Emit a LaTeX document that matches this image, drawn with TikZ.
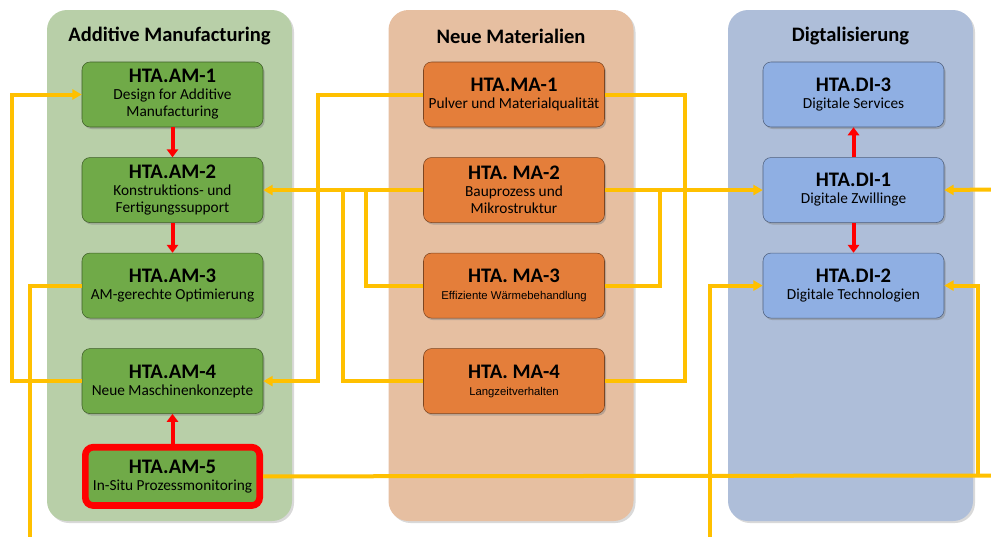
\documentclass[tikz,border=0pt]{standalone}
\usepackage{fontspec}
\setmainfont{Carlito}
\newfontfamily\arialfont{Liberation Sans}
\usepackage{tikz}
\usetikzlibrary{arrows.meta,positioning,calc,shadows}
\definecolor{ampanel}{RGB}{184,207,168}
\definecolor{amgreen}{RGB}{112,170,72}
\definecolor{mapanel}{RGB}{230,191,161}
\definecolor{maorange}{RGB}{228,126,58}
\definecolor{dipanel}{RGB}{174,190,217}
\definecolor{diblue}{RGB}{143,175,227}
\definecolor{linkyellow}{RGB}{255,192,0}
\newcommand{\boxhead}[1]{{\fontsize{15.5}{16}\selectfont\bfseries #1}}
\newcommand{\armsub}[1]{{\arialfont\fontsize{8.5}{11}\selectfont #1}}
\tikzset{
  panelbox/.style={fill=#1,rounded corners=15pt,minimum width=183.75pt,
    minimum height=383.25pt,
    drop shadow={opacity=0.3,shadow xshift=1.5pt,shadow yshift=-1.5pt}},
  topicbox/.style={draw=#1!55!black,fill=#1,rounded corners=6pt,align=center,
    minimum width=135.75pt,minimum height=48.75pt,inner sep=1pt,
    font=\fontsize{11.5}{12.8}\selectfont,
    drop shadow={opacity=0.45,shadow xshift=1.2pt,shadow yshift=-1.5pt}},
  paneltitle/.style={font=\fontsize{15.4}{17}\selectfont\bfseries},
  feedline/.style={line width=3pt,draw=linkyellow},
  feedarrow/.style={feedline,-{Triangle[length=7pt,width=7.5pt]}},
  steparrow/.style={line width=3pt,draw=red,-{Triangle[length=6pt,width=8.5pt]}}
}
\begin{document}
\begin{tikzpicture}[x=0.75pt,y=-0.75pt,node distance=22.5pt]
  \useasboundingbox (0,0) rectangle (991,537);
  % panels
  \node[panelbox=ampanel] (amarea) at (169.5,265.5) {};
  \node[panelbox=mapanel] (maarea) at (511,265.5) {};
  \node[panelbox=dipanel] (diarea) at (850.5,265.5) {};
  \node[paneltitle] (amtitle) at (169.5,36) {Additive Manufacturing};
  \node[paneltitle] (matitle) at (511,36) {Neue Materialien};
  \node[paneltitle] (dititle) at (850.5,36) {Digtalisierung};

  % Additive Manufacturing
  \node[topicbox=amgreen] (am1) at (172.5,94.5) {\boxhead{HTA.AM-1}\\Design for Additive\\Manufacturing};
  \node[topicbox=amgreen,below=of am1] (am2) {\boxhead{HTA.AM-2}\\Konstruktions- und\\Fertigungssupport};
  \node[topicbox=amgreen,below=of am2] (am3) {\boxhead{HTA.AM-3}\\AM-gerechte Optimierung};
  \node[topicbox=amgreen,below=of am3] (am4) {\boxhead{HTA.AM-4}\\Neue Maschinenkonzepte};
  \node[topicbox=amgreen,below=of am4,draw=red,line width=5pt,
    minimum width=130.75pt,minimum height=43.75pt] (am5) {\boxhead{HTA.AM-5}\\In-Situ Prozessmonitoring};

  % Neue Materialien
  \node[topicbox=maorange] (ma1) at (514,94.5) {\boxhead{HTA.MA-1}\\Pulver und Materialqualität};
  \node[topicbox=maorange,below=of ma1] (ma2) {\boxhead{HTA. MA-2}\\Bauprozess und\\Mikrostruktur};
  \node[topicbox=maorange,below=of ma2] (ma3) {\boxhead{HTA. MA-3}\\\armsub{Effiziente Wärmebehandlung}};
  \node[topicbox=maorange,below=of ma3] (ma4) {\boxhead{HTA. MA-4}\\\armsub{Langzeitverhalten}};

  % Digitalisierung
  \node[topicbox=diblue] (di3) at (853.5,94.5) {\boxhead{HTA.DI-3}\\Digitale Services};
  \node[topicbox=diblue,below=of di3] (di1) {\boxhead{HTA.DI-1}\\Digitale Zwillinge};
  \node[topicbox=diblue,below=of di1] (di2) {\boxhead{HTA.DI-2}\\Digitale Technologien};

  % red steps
  \draw[steparrow] (am1) -- (am2);
  \draw[steparrow] (am2) -- (am3);
  \draw[steparrow] (am5) -- (am4);
  \draw[steparrow] (di1) -- (di3);
  \draw[steparrow] (di1) -- (di2);

  % yellow links
  \coordinate (amdown) at (30,537);
  \coordinate (didown) at (710,537);
  \coordinate (amout) at (991,475.5);
  \coordinate (diturn) at (978,475.5);
  \coordinate (diin) at (991,189.5);
  \draw[feedarrow] (am4.west) -- ++(-70,0) |- (am1.west);
  \draw[feedline] (am3.west) -| (amdown);
  \draw[feedarrow] (ma1.west) -- ++(-105,0) |- (am4.east);
  \draw[feedarrow] (ma2.west) -- (am2.east);
  \draw[feedline] (ma3.west) -| ($(ma2.west)+(-57,0)$);
  \draw[feedline] (ma4.west) -| ($(ma2.west)+(-80,0)$);
  \draw[feedline] (ma1.east) -- ++(80,0) |- (ma4.east);
  \draw[feedarrow] (ma2.east) -- (di1.west);
  \draw[feedline] (ma3.east) -| ($(ma2.east)+(55,0)$);
  \draw[feedarrow] (didown) |- (di2.west);
  \draw[feedline] (am5.east) -- (amout);
  \draw[feedarrow] (diturn) |- (di2.east);
  \draw[feedarrow] (diin) -- (di1.east);
\end{tikzpicture}
\end{document}
